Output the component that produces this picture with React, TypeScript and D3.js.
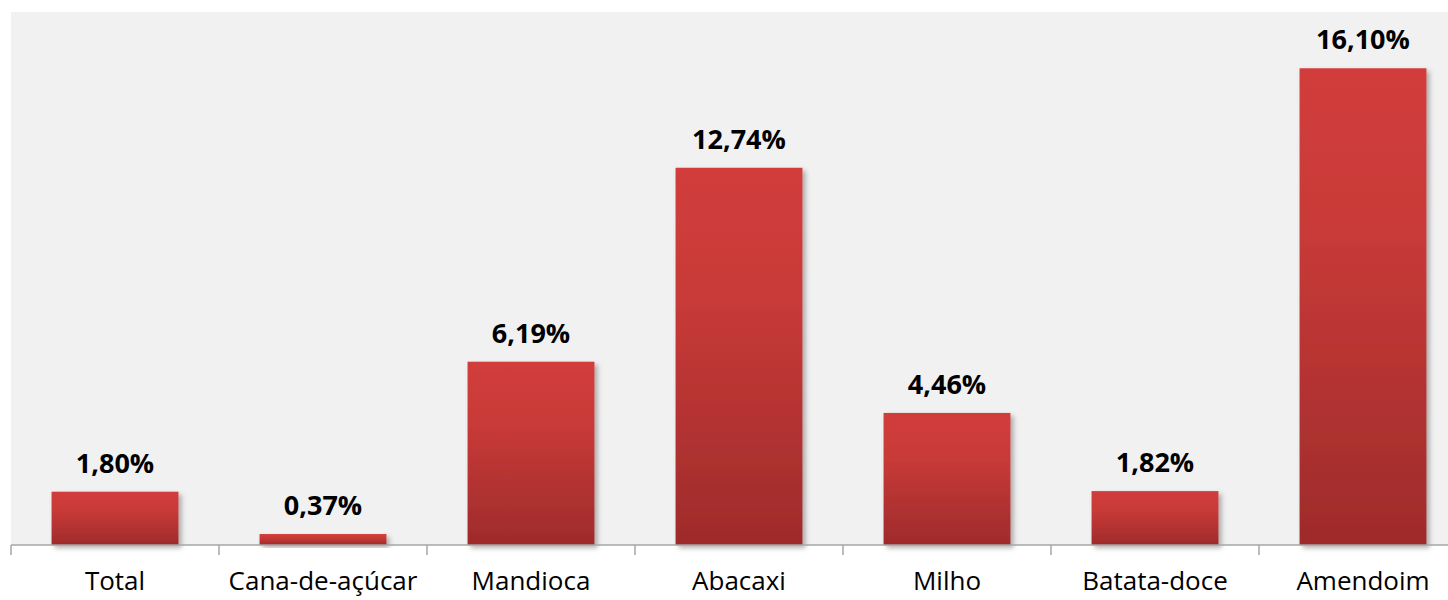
import * as React from 'react';
import * as d3 from 'd3';

import type { RefObject } from 'react';

const categories = ['Total', 'Cana-de-açúcar', 'Mandioca', 'Abacaxi', 'Milho', 'Batata-doce', 'Amendoim'];
const values = [1.8, 0.37, 6.19, 12.74, 4.46, 1.82, 16.1];
const valueLabels = ['1,80%', '0,37%', '6,19%', '12,74%', '4,46%', '1,82%', '16,10%'];

const Chart = () => {
  const ref: RefObject<SVGSVGElement> = React.useRef(null);

  const width = 1448;
  const height = 600;
  const plot = { left: 11, top: 12, right: 1467, bottom: 545 };

  React.useEffect(() => {
    draw();
  }, []);

  const draw = () => {
    const svg = d3.select(ref.current);
    svg.selectAll('*').remove();

    const defs = svg.append('defs');
    const grad = defs
      .append('linearGradient')
      .attr('id', 'barGrad')
      .attr('x1', 0)
      .attr('y1', 0)
      .attr('x2', 0)
      .attr('y2', 1);
    grad.append('stop').attr('offset', '0%').attr('stop-color', '#d13d3b');
    grad.append('stop').attr('offset', '35%').attr('stop-color', '#c83a38');
    grad.append('stop').attr('offset', '100%').attr('stop-color', '#9e2b2b');

    const filter = defs.append('filter').attr('id', 'shadow').attr('x', '-10%').attr('y', '-10%').attr('width', '130%').attr('height', '130%');
    filter
      .append('feDropShadow')
      .attr('dx', 3)
      .attr('dy', 3)
      .attr('stdDeviation', 2.5)
      .attr('flood-color', '#000')
      .attr('flood-opacity', 0.3);

    svg
      .append('rect')
      .attr('x', plot.left)
      .attr('y', plot.top)
      .attr('width', plot.right - plot.left)
      .attr('height', plot.bottom - plot.top)
      .attr('fill', '#f1f1f1');

    const x = d3
      .scaleBand<string>()
      .domain(categories)
      .range([plot.left, plot.right])
      .paddingInner(0.39)
      .paddingOuter(0.195);

    const y = d3.scaleLinear().domain([0, 18]).range([plot.bottom, plot.top]);

    svg
      .append('g')
      .selectAll('rect')
      .data(values)
      .join('rect')
      .attr('x', (d, i) => x(categories[i]) as number)
      .attr('y', (d) => y(d))
      .attr('width', x.bandwidth())
      .attr('height', (d) => y(0) - y(d))
      .attr('fill', 'url(#barGrad)')
      .attr('filter', 'url(#shadow)');

    // axis line + ticks at category boundaries
    const step = x.step();
    const axis = svg.append('g').attr('stroke', '#a6a6a6').attr('stroke-width', 1.5);
    axis
      .append('line')
      .attr('x1', plot.left)
      .attr('x2', plot.right)
      .attr('y1', plot.bottom)
      .attr('y2', plot.bottom);
    d3.range(categories.length + 1).forEach((i) => {
      const tx = plot.left + i * step;
      axis.append('line').attr('x1', tx).attr('x2', tx).attr('y1', plot.bottom).attr('y2', plot.bottom + 10);
    });

    svg
      .append('g')
      .selectAll('text')
      .data(valueLabels)
      .join('text')
      .attr('x', (d, i) => (x(categories[i]) as number) + x.bandwidth() / 2)
      .attr('y', (d, i) => y(values[i]) - 19)
      .attr('text-anchor', 'middle')
      .attr('font-family', 'Open Sans, sans-serif')
      .attr('font-weight', 'bold')
      .attr('font-size', 27)
      .attr('fill', '#000')
      .text((d) => d);

    svg
      .append('g')
      .selectAll('text')
      .data(categories)
      .join('text')
      .attr('x', (d) => (x(d) as number) + x.bandwidth() / 2)
      .attr('y', 590)
      .attr('text-anchor', 'middle')
      .attr('font-family', 'Open Sans, sans-serif')
      .attr('font-size', 26)
      .attr('fill', '#000')
      .text((d) => d);
  };

  return (
    <svg
      ref={ref}
      width={width}
      height={height}
      style={{ position: 'absolute', left: 0, top: 0, background: '#fff' }}
    />
  );
};

export default function App() {
  return <Chart />;
}
